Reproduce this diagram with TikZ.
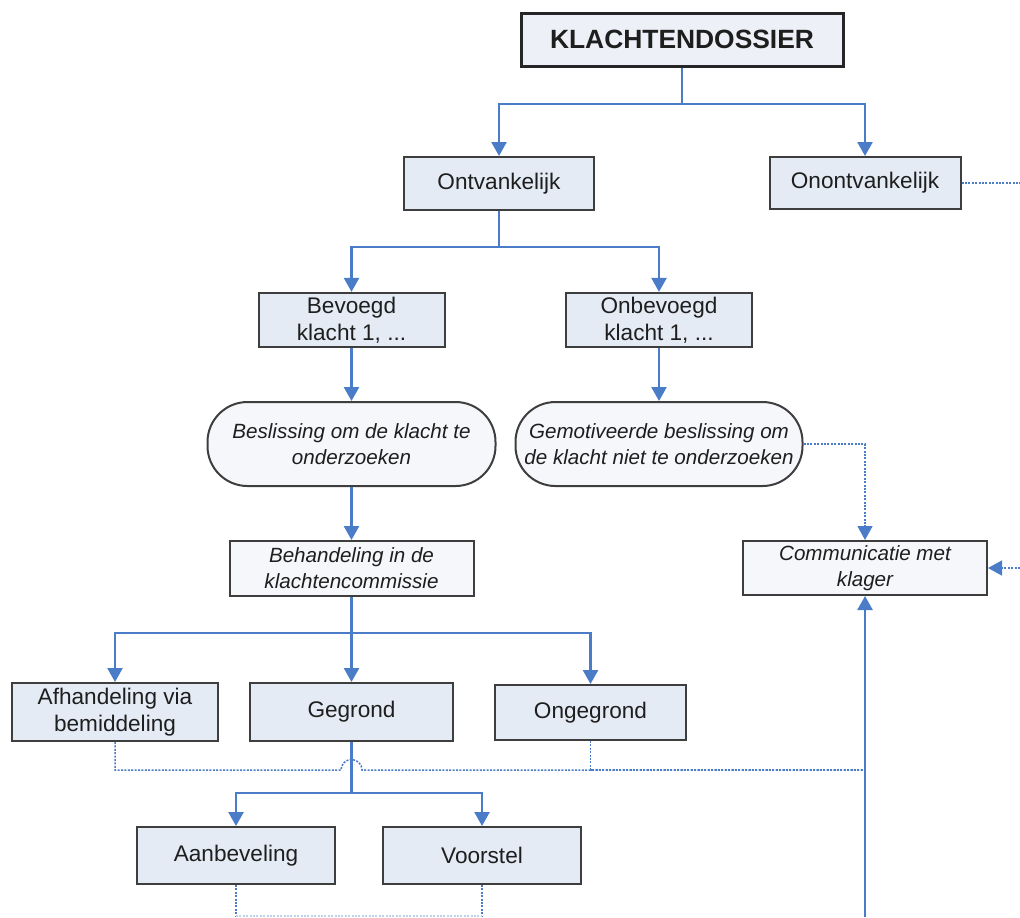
\documentclass[tikz,border=0pt]{standalone}
\usepackage{fontspec}
\setmainfont{Liberation Sans}
\usetikzlibrary{arrows.meta}

\definecolor{linkblue}{RGB}{74,124,200}
\definecolor{boxfill}{RGB}{229,235,245}
\definecolor{palefill}{RGB}{246,247,250}
\definecolor{topfill}{RGB}{237,241,247}
\definecolor{rimgray}{RGB}{62,62,62}
\definecolor{inkgray}{RGB}{30,30,30}

\tikzset{every picture/.style={line width=0.75pt}}
\tikzset{
  box/.style={draw=rimgray, line width=1pt, fill=boxfill, text=inkgray, align=center, inner sep=2pt,
    font=\fontsize{11.3}{13.5}\selectfont},
  topbox/.style={box, line width=1.5pt, draw=black!85, fill=topfill, font=\fontsize{13.2}{15}\selectfont\bfseries},
  notebox/.style={box, fill=palefill, font=\fontsize{10.3}{13}\selectfont\itshape},
  roundbox/.style={notebox, rounded corners=20pt},
  flow/.style={draw=linkblue, line width=1.25pt, -{Triangle[width=7.5pt,length=7pt]}},
  flowline/.style={draw=linkblue, line width=1.25pt},
  feedback/.style={draw=linkblue, line width=0.75pt, dash pattern=on 1pt off 0.7pt},
  feedbackarrow/.style={feedback, -{Triangle[width=7.5pt,length=7pt]}}
}

\begin{document}
\begin{tikzpicture}[x=0.5pt,y=0.5pt,yscale=-1]
	\useasboundingbox (0,0) rectangle (1020,917);

	% Boxes
	\node[topbox, minimum width=161pt, minimum height=26.5pt] (klacht) at (682,39.5) {KLACHTENDOSSIER};
	\node[box, minimum width=95pt, minimum height=26.5pt] (ontv) at (499,183.5) {Ontvankelijk};
	\node[box, minimum width=95.5pt, minimum height=26pt] (onontv) at (865,183) {Onontvankelijk};
	\node[box, minimum width=93pt, minimum height=27pt] (bevoegd) at (351.5,320) {Bevoegd\\klacht 1, ...};
	\node[box, minimum width=93pt, minimum height=27pt] (onbevoegd) at (659,320) {Onbevoegd\\klacht 1, ...};
	\node[roundbox, minimum width=144pt, minimum height=42pt] (beslis) at (351.5,444) {Beslissing om de klacht te\\onderzoeken};
	\node[roundbox, minimum width=143.5pt, minimum height=42pt] (gemot) at (659,444) {Gemotiveerde beslissing om\\de klacht niet te onderzoeken};
	\node[notebox, minimum width=122pt, minimum height=27.5pt] (behand) at (351.5,568.5) {Behandeling in de\\klachtencommissie};
	\node[notebox, minimum width=122pt, minimum height=27pt] (comm) at (865,568) {Communicatie met\\klager};
	\node[box, minimum width=103pt, minimum height=29pt] (afh) at (115,712) {Afhandeling via\\bemiddeling};
	\node[box, minimum width=101.5pt, minimum height=29pt] (gegrond) at (351.5,712) {Gegrond};
	\node[box, minimum width=95.5pt, minimum height=27.5pt] (ongegrond) at (590.5,712.5) {Ongegrond};
	\node[box, minimum width=99pt, minimum height=28.5pt] (aanb) at (236,855.5) {Aanbeveling};
	\node[box, minimum width=99pt, minimum height=28.5pt] (voorstel) at (482,855.5) {Voorstel};

	% Split points and loose ends
	\coordinate (splitA) at (682,104);
	\coordinate (splitB) at (499,247);
	\coordinate (splitC) at (351.5,633);
	\coordinate (splitD) at (351.5,793);
	\coordinate (gather) at (865,770);
	\coordinate (rightout) at (1020,183);
	\coordinate (rightin) at (1020,568);
	\coordinate (bottomin) at (865,917);
	\coordinate (aanbout) at (236,916);
	\coordinate (voorout) at (482,916);

	% Solid connectors
	\draw[flowline] (klacht.south) -- (splitA);
	\draw[flow] (splitA) -| (ontv.north);
	\draw[flow] (splitA) -| (onontv.north);
	\draw[flowline] (ontv.south) -- (splitB);
	\draw[flow] (splitB) -| (bevoegd.north);
	\draw[flow] (splitB) -| (onbevoegd.north);
	\draw[flow] (bevoegd.south) -- (beslis.north);
	\draw[flow] (onbevoegd.south) -- (gemot.north);
	\draw[flow] (beslis.south) -- (behand.north);
	\draw[flowline] (behand.south) -- (splitC);
	\draw[flow] (splitC) -| (afh.north);
	\draw[flow] (splitC) -- (gegrond.north);
	\draw[flow] (splitC) -| (ongegrond.north);
	\draw[flowline] (gegrond.south) -- (splitD);
	\draw[flow] (splitD) -| (aanb.north);
	\draw[flow] (splitD) -| (voorstel.north);
	\draw[flow] (bottomin) -- (comm.south);

	% Dotted connectors
	\draw[feedbackarrow] (gemot.east) -| (comm.north);
	\draw[feedback] (onontv.east) -- (rightout);
	\draw[feedbackarrow] (rightin) -- (comm.east);
	\draw[feedback] (afh.south) |- (341,770) arc (180:360:10.5) -- (gather);
	\draw[feedback] (ongegrond.south) |- (gather);
	\draw[feedback] (aanb.south) -- (aanbout);
	\draw[feedback] (voorstel.south) -- (voorout);
	\draw[feedback, draw=linkblue!35] (aanbout) -- (voorout);

\end{tikzpicture}
\end{document}
